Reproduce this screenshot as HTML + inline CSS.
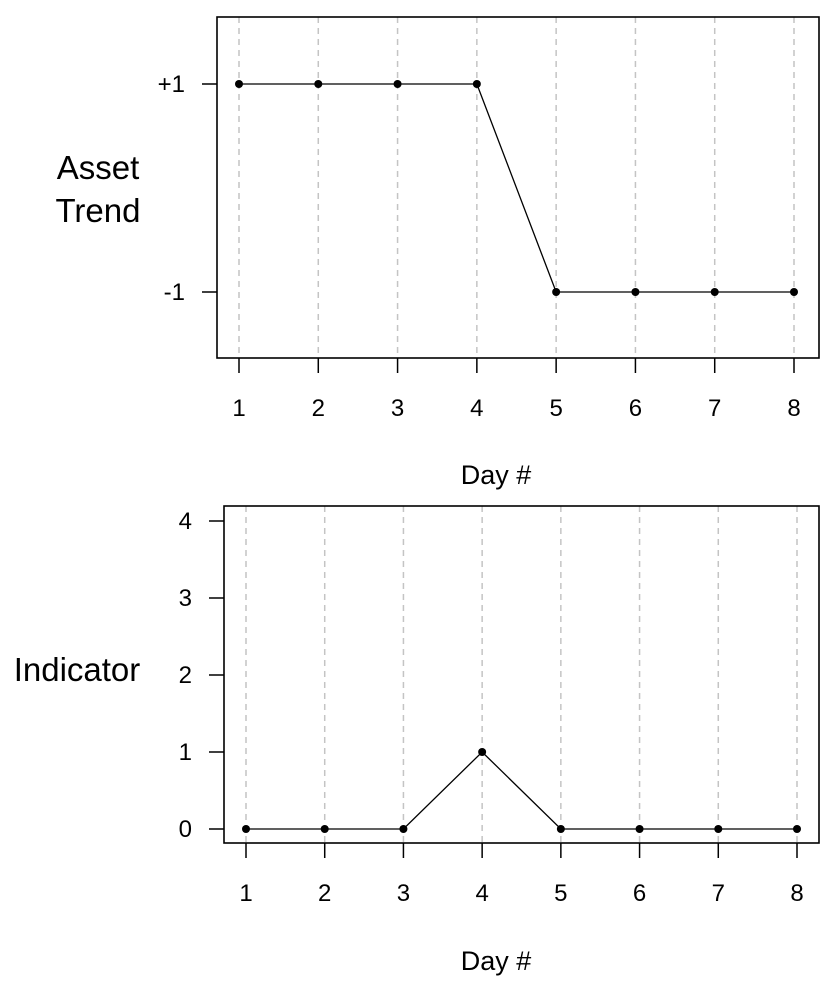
<!DOCTYPE html>
<html><head><meta charset="utf-8"><style>
html,body{margin:0;padding:0;background:#fff;}
svg{display:block;font-family:"Liberation Sans",Arial,sans-serif;}
</style></head><body>
<svg id="c" width="837" height="993" viewBox="0 0 837 993">
<g id="top"></g>
<g id="bot"></g>
</svg>
<script>
const days=[1,2,3,4,5,6,7,8];
const trendValues=[1,1,1,1,-1,-1,-1,-1];
const trendTicks=[1,-1];
const trendTickLabels=["+1","-1"];
const indicatorValues=[0,0,0,1,0,0,0,0];
const indicatorTicks=[0,1,2,3,4];
const indicatorTickLabels=["0","1","2","3","4"];
const NS="http://www.w3.org/2000/svg";
function mk(p,t,a,txt){const e=document.createElementNS(NS,t);for(const k in a)e.setAttribute(k,a[k]);if(txt!=null)e.textContent=txt;p.appendChild(e);return e;}
function panel(g,o){
 const sx=d=>o.x1+(d-1)*(o.x8-o.x1)/7;
 const sy=v=>o.yA+(v-o.vA)*(o.yB-o.yA)/(o.vB-o.vA);
 days.forEach(d=>{const l=mk(g,'line',{x1:sx(d),x2:sx(d),y1:o.top,y2:o.bot,stroke:'#c4c4c4','stroke-width':1.5,'stroke-dasharray':'6,5'});
  
  });
 const pts=o.vals.map((v,i)=>sx(days[i])+','+sy(v)).join(' ');
 const pl=mk(g,'polyline',{points:pts,fill:'none',stroke:'#000','stroke-width':1.3});
 
 
 o.vals.forEach((v,i)=>{const c=mk(g,'circle',{cx:sx(days[i]),cy:sy(v),r:4,fill:'#000'});
  
  });
 const r=mk(g,'rect',{x:o.left,y:o.top,width:o.right-o.left,height:o.bot-o.top,fill:'none',stroke:'#000','stroke-width':1.6});
 
 
 days.forEach(d=>{const t=mk(g,'line',{x1:sx(d),x2:sx(d),y1:o.bot,y2:o.bot+15,stroke:'#000','stroke-width':1.5});
  
  
  const l=mk(g,'text',{x:sx(d),y:o.bot+58,'text-anchor':'middle','font-size':24,fill:'#000'},String(d));
  
  });
 o.ticks.forEach((v,i)=>{const t=mk(g,'line',{x1:o.left-15,x2:o.left,y1:sy(v),y2:sy(v),stroke:'#000','stroke-width':1.5});
  
  
  const l=mk(g,'text',{x:o.left-32,y:sy(v)+8,'text-anchor':'end','font-size':24,fill:'#000'},o.labels[i]);
  
  });
 const xt=mk(g,'text',{x:o.xtx,y:o.xty,'text-anchor':'middle','font-size':27,fill:'#000'},'Day #');
 
 
 o.ytitle.forEach((s,i)=>{const yt=mk(g,'text',{x:o.ytx,y:o.yty+i*43,'text-anchor':'middle','font-size':33,fill:'#000'},s);
  
  });
}
panel(document.getElementById('top'),{left:217,right:819,top:17,bot:358,x1:239,x8:794,yA:84,vA:1,yB:292,vB:-1,
 vals:trendValues,ticks:trendTicks,labels:trendTickLabels,xtx:496,xty:484,ytitle:['Asset','Trend'],ytx:98,yty:179});
panel(document.getElementById('bot'),{left:224,right:819,top:506,bot:843,x1:246,x8:797,yA:829,vA:0,yB:752,vB:1,
 vals:indicatorValues,ticks:indicatorTicks,labels:indicatorTickLabels,xtx:496,xty:970,ytitle:['Indicator'],ytx:77,yty:681});
</script>
</body></html>
